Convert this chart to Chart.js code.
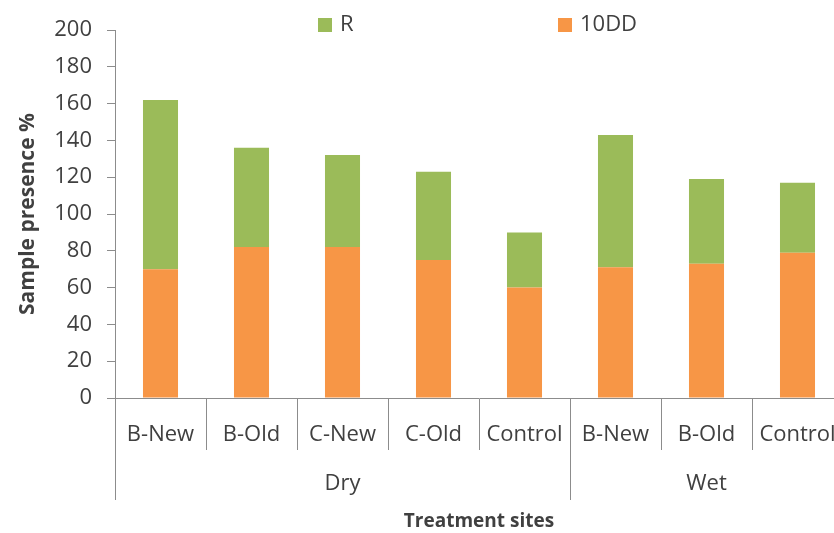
<!DOCTYPE html>
<html>
<head>
<meta charset="utf-8">
<script src="https://cdn.jsdelivr.net/npm/chart.js@4"></script>
<style>
  html, body { margin: 0; padding: 0; background: #fff; overflow: hidden; }
  #wrap { width: 860px; height: 533px; position: relative; }
</style>
</head>
<body>
<div id="wrap"><canvas id="chart"></canvas></div>
<script>
// sites along the x axis, with the condition they belong to
const sites = ['B-New', 'B-Old', 'C-New', 'C-Old', 'Control', 'B-New', 'B-Old', 'Control'];
const conditions = ['Dry', 'Wet'];
const conditionSizes = [5, 3];

// stacked series (10DD at the bottom, R on top)
const dd10 = [70, 82, 82, 75, 60, 71, 73, 79];
const rValues = [92, 54, 50, 48, 30, 72, 46, 38];

const yTicks = [0, 20, 40, 60, 80, 100, 120, 140, 160, 180, 200];

const textColor = '#404040';
const axisColor = '#8c8c8c';
const fontFamily = '"Open Sans", Lato, sans-serif';

// boundaries and midpoints of the Dry / Wet groups in category units
const groupEdges = [0];
conditionSizes.forEach(n => groupEdges.push(groupEdges[groupEdges.length - 1] + n));
const groupMids = conditions.map((c, i) => (groupEdges[i] + groupEdges[i + 1]) / 2);

// legend drawn by hand so the two entries can sit far apart
const spreadLegend = {
    id: 'spreadLegend',
    afterDraw(chart, args, opts) {
        const ctx = chart.ctx;
        const items = chart.data.datasets.slice().reverse();
        ctx.save();
        ctx.font = '22px ' + fontFamily;
        ctx.textBaseline = 'middle';
        ctx.textAlign = 'left';
        items.forEach((ds, i) => {
            const x = opts.xs[i];
            ctx.fillStyle = ds.backgroundColor;
            ctx.fillRect(x, opts.y - 7, 14, 14);
            ctx.fillStyle = textColor;
            ctx.fillText(ds.label, x + 22, opts.y);
        });
        ctx.restore();
    }
};

const ctx = document.getElementById('chart').getContext('2d');
new Chart(ctx, {
    type: 'bar',
    data: {
        labels: sites,
        datasets: [
            {
                label: '10DD',
                data: dd10,
                backgroundColor: '#F79646',
                categoryPercentage: 1,
                barPercentage: 0.385
            },
            {
                label: 'R',
                data: rValues,
                backgroundColor: '#9BBB59',
                categoryPercentage: 1,
                barPercentage: 0.385
            }
        ]
    },
    options: {
        responsive: true,
        maintainAspectRatio: false,
        animation: false,
        layout: { padding: { top: 30, right: 17, left: 0, bottom: 0 } },
        plugins: {
            legend: { display: false },
            tooltip: { enabled: false },
            spreadLegend: { xs: [318, 558], y: 25 }
        },
        scales: {
            x: {
                stacked: true,
                weight: 0,
                grid: {
                    offset: true,
                    drawOnChartArea: false,
                    tickLength: 52,
                    color: axisColor
                },
                border: { color: axisColor },
                ticks: {
                    autoSkip: false,
                    maxRotation: 0,
                    padding: -28,
                    color: textColor,
                    font: { family: fontFamily, size: 22 }
                },
                afterFit(scale) { scale.height = 52; }
            },
            // second row of the x axis: Dry / Wet spans
            groups: {
                type: 'linear',
                axis: 'x',
                position: 'bottom',
                weight: 1,
                offset: false,
                min: 0,
                max: sites.length,
                afterBuildTicks(scale) {
                    const vals = groupEdges.concat(groupMids).sort((a, b) => a - b);
                    scale.ticks = vals.map(v => ({ value: v }));
                },
                grid: {
                    offset: false,
                    drawOnChartArea: false,
                    tickLength: 50,
                    color: c => (c.tick && groupEdges.includes(c.tick.value)) ? axisColor : 'rgba(0,0,0,0)'
                },
                border: { display: false },
                ticks: {
                    autoSkip: false,
                    maxRotation: 0,
                    padding: -29,
                    color: textColor,
                    font: { family: fontFamily, size: 22 },
                    callback: v => {
                        const i = groupMids.indexOf(v);
                        return i >= 0 ? conditions[i] : '';
                    }
                },
                title: {
                    display: true,
                    text: 'Treatment sites',
                    color: textColor,
                    font: { family: fontFamily, size: 19, weight: 'bold' },
                    padding: { top: 0, bottom: 0 }
                },
                afterFit(scale) { scale.height = 83; }
            },
            y: {
                stacked: true,
                min: 0,
                max: 200,
                afterBuildTicks(scale) {
                    scale.ticks = yTicks.map(v => ({ value: v }));
                },
                grid: {
                    drawOnChartArea: false,
                    tickLength: 8,
                    color: axisColor
                },
                border: { color: axisColor },
                ticks: {
                    autoSkip: false,
                    padding: 15,
                    color: textColor,
                    font: { family: fontFamily, size: 22 }
                },
                title: {
                    display: true,
                    text: 'Sample presence %',
                    color: textColor,
                    font: { family: fontFamily, size: 21, weight: 'bold' },
                    padding: { top: 15, bottom: 0 }
                },
                afterFit(scale) { scale.width = 115; }
            }
        }
    },
    plugins: [spreadLegend]
});
</script>
</body>
</html>
